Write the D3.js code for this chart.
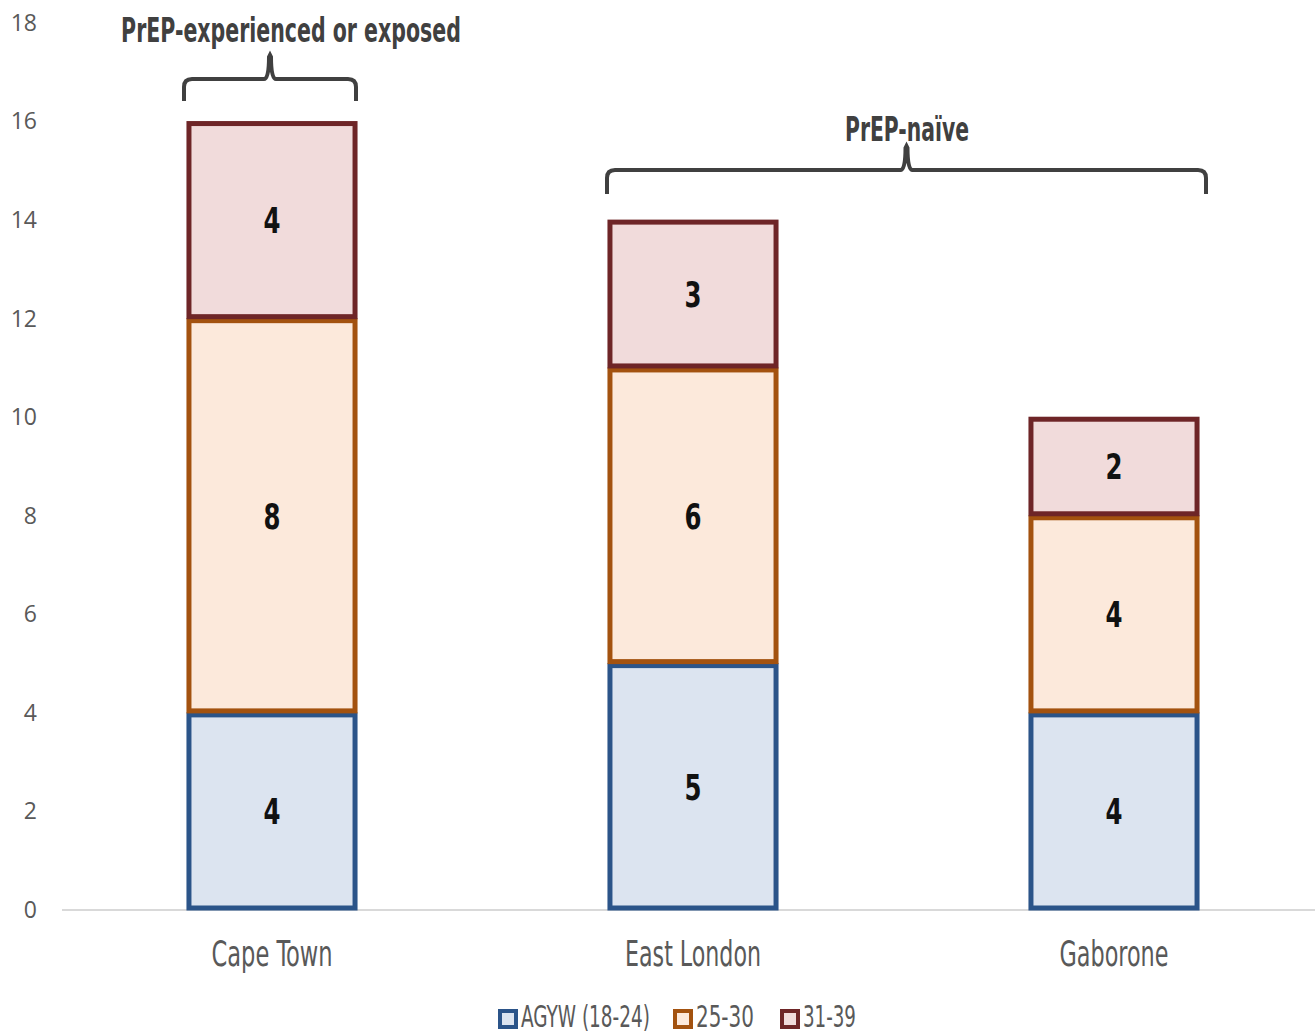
<!DOCTYPE html>
<html><head><meta charset="utf-8">
<script src="https://cdn.jsdelivr.net/npm/d3@7"></script>
<style>body{margin:0;background:#fff}</style>
</head><body>
<svg id="c" width="1315" height="1033"></svg>
<script>
const categories = ["Cape Town", "East London", "Gaborone"];
const seriesNames = ["AGYW (18-24)", "25-30", "31-39"];
const agyw = [4, 5, 4];
const age2530 = [8, 6, 4];
const age3139 = [4, 3, 2];
const yTicks = [0, 2, 4, 6, 8, 10, 12, 14, 16, 18];
const strokeColors = ["#2B5489", "#A3520F", "#6E2527"];
const fillColors = ["#DCE4F0", "#FCE9DB", "#F1DBDB"];

const svg = d3.select("#c");
const narrow = "'DejaVu Sans Condensed','Liberation Sans Narrow',sans-serif";
const x = d3.scaleBand().domain(categories).range([61.5, 1324.5]).paddingInner(0.596).paddingOuter(0.298);
const y = d3.scaleLinear().domain([0, 18]).range([910, 23]);

// horizontally condense a text to a target width (anchor-aware)
function fit(sel, widthFn) {
  sel.each(function(d, i) {
    const el = this;
    const nat = el.getComputedTextLength();
    const s = (typeof widthFn === "function" ? widthFn(d, i) : widthFn) / nat;
    const ax = +el.getAttribute("x");
    el.setAttribute("transform", `translate(${ax},0) scale(${s},1) translate(${-ax},0)`);
  });
}

// axis line
svg.append("line").attr("x1", 62).attr("x2", 1315).attr("y1", y(0)).attr("y2", y(0))
  .attr("stroke", "#d9d9d9").attr("stroke-width", 2);

// y tick labels
const yAxis = svg.append("g").attr("transform", "translate(37,0)")
  .call(d3.axisLeft(y).tickValues(yTicks).tickSize(0).tickPadding(0));
yAxis.select(".domain").remove();
yAxis.selectAll("text").attr("font-family", "'Open Sans','Liberation Sans',sans-serif")
  .attr("font-size", 23).attr("fill", "#595959").attr("text-anchor", "end");

const data = categories.map((c, i) => ({cat: c, s0: agyw[i], s1: age2530[i], s2: age3139[i]}));
const stack = d3.stack().keys(["s0", "s1", "s2"])(data);

stack.forEach((layer, k) => {
  const g = svg.append("g");
  g.selectAll("rect").data(layer).join("rect")
    .attr("x", d => x(d.data.cat) + 2)
    .attr("width", x.bandwidth() - 4)
    .attr("y", d => y(d[1]) + 2)
    .attr("height", d => y(d[0]) - y(d[1]) - 4)
    .attr("fill", fillColors[k]).attr("stroke", strokeColors[k]).attr("stroke-width", 5);
  g.selectAll("text").data(layer).join("text")
    .attr("x", d => x(d.data.cat) + x.bandwidth() / 2)
    .attr("y", d => (y(d[0]) + y(d[1])) / 2 + 13)
    .attr("text-anchor", "middle")
    .attr("font-family", narrow).attr("font-weight", "bold").attr("font-size", 36).attr("fill", "#111")
    .text(d => d[1] - d[0])
    .call(fit, 17);
});

// x labels
const xLabW = [121, 136, 109];
svg.append("g").selectAll("text").data(categories).join("text")
  .attr("x", d => x(d) + x.bandwidth() / 2).attr("y", 966)
  .attr("text-anchor", "middle").attr("font-family", narrow).attr("font-size", 36).attr("fill", "#595959")
  .text(d => d)
  .call(fit, (d, i) => xLabW[i]);

// brackets
function bracket(x0, x1, yTop, depth, tip) {
  const xm = (x0 + x1) / 2;
  const r = 8;
  const p = `M${x0},${yTop + depth} L${x0},${yTop + r} Q${x0},${yTop} ${x0 + r},${yTop} L${xm - 6},${yTop} Q${xm - 1},${yTop} ${xm - 1},${yTop - tip + 2} L${xm},${yTop - tip} L${xm + 1},${yTop - tip + 2} Q${xm + 1},${yTop} ${xm + 6},${yTop} L${x1 - r},${yTop} Q${x1},${yTop} ${x1},${yTop + r} L${x1},${yTop + depth}`;
  svg.append("path").attr("d", p).attr("fill", "none").attr("stroke", "#404040").attr("stroke-width", 4);
}
const groups = [
  {label: "PrEP-experienced or exposed", cats: ["Cape Town"]},
  {label: "PrEP-naïve", cats: ["East London", "Gaborone"]}
];
const bx = [[184, 356, 79, 22, 24], [607, 1206, 170, 24, 24]];
const ty = [42, 141];
const tx = [291, 907];
const tw = [340, 124];
groups.forEach((g, i) => {
  bracket(...bx[i]);
  svg.append("text").attr("x", tx[i]).attr("y", ty[i]).attr("text-anchor", "middle")
    .attr("font-family", narrow).attr("font-weight", "bold").attr("font-size", 34).attr("fill", "#404040")
    .text(g.label)
    .call(fit, tw[i]);
});

// legend
const legX = [498, 673, 780];
const legW = [129, 58, 53];
const lg = svg.append("g");
seriesNames.forEach((n, i) => {
  lg.append("rect").attr("x", legX[i] + 2).attr("y", 1011).attr("width", 16).attr("height", 16)
    .attr("fill", fillColors[i]).attr("stroke", strokeColors[i]).attr("stroke-width", 4);
  lg.append("text").attr("x", legX[i] + 23).attr("y", 1027)
    .attr("font-family", narrow).attr("font-size", 30).attr("fill", "#595959")
    .text(n)
    .call(fit, legW[i]);
});
</script>
</body></html>
